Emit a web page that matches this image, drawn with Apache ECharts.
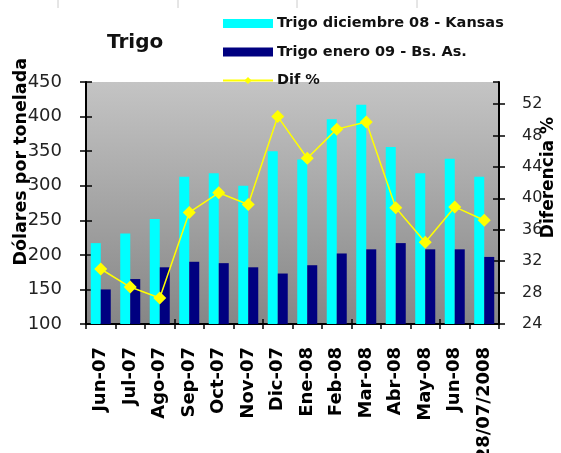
<!DOCTYPE html>
<html>
<head>
<meta charset="utf-8">
<script src="https://cdn.jsdelivr.net/npm/echarts@6/dist/echarts.min.js"></script>
<style>html,body{margin:0;padding:0;background:#fff}#c{width:561px;height:453px}</style>
</head>
<body>
<div id="c"></div>
<script>
const categories = ['Jun-07','Jul-07','Ago-07','Sep-07','Oct-07','Nov-07','Dic-07','Ene-08','Feb-08','Mar-08','Abr-08','May-08','Jun-08','28/07/2008'];
const kansas = [217, 231, 252, 313, 318, 300, 350, 338, 396, 417, 356, 318, 339, 313];
const bsas = [150, 165, 182, 190, 188, 182, 173, 185, 202, 208, 217, 208, 208, 197];
const difPct = [31.0, 28.7, 27.3, 38.2, 40.7, 39.2, 50.4, 45.1, 48.8, 49.7, 38.8, 34.4, 38.9, 37.2];
const leftTicks = {min: 100, max: 450, interval: 50};
const rightTicks = {min: 24, max: 54.8, interval: 4};

const chart = echarts.init(document.getElementById('c'));
const font = '"DejaVu Sans", Verdana, sans-serif';
const tickStyle = {color: '#000', width: 1.5};
chart.setOption({
  animation: false,
  title: {text: 'Trigo', left: 102, top: 28, textStyle: {fontFamily: font, fontSize: 20, fontWeight: 'bold', color: '#111'}},
  legend: {
    orient: 'vertical', left: 217, top: 11, itemWidth: 50, itemHeight: 9, itemGap: 13.5,
    textStyle: {fontFamily: font, fontSize: 14.5, fontWeight: 'bold', color: '#111', padding: [0,0,0,-1]},
    data: [
      {name: 'Trigo diciembre 08 - Kansas', icon: 'rect'},
      {name: 'Trigo enero 09 - Bs. As.', icon: 'rect'},
      {name: 'Dif %'}
    ]
  },
  grid: {
    left: 86, right: 62, top: 82, bottom: 129, show: true, borderWidth: 0,
    containLabel: false, outerBoundsMode: 'none',
    backgroundColor: new echarts.graphic.LinearGradient(0, 0, 0, 1, [
      {offset: 0, color: '#c4c4c4'}, {offset: 1, color: '#868686'}
    ])
  },
  xAxis: [
    {type: 'category', data: categories, position: 'bottom',
     axisLine: {lineStyle: {color: '#000', width: 2}},
     axisTick: {show: true, length: 5, lineStyle: tickStyle},
     axisLabel: {rotate: 90, margin: 23, fontFamily: font, fontSize: 18, fontWeight: 'bold', color: '#000'}},
    {type: 'category', data: categories, position: 'bottom',
     axisLine: {show: false}, axisTick: {show: true, inside: true, length: 5, lineStyle: tickStyle},
     axisLabel: {show: false}}
  ],
  yAxis: [
    {type: 'value', position: 'left', min: leftTicks.min, max: leftTicks.max, interval: leftTicks.interval,
     axisLine: {show: true, lineStyle: {color: '#000', width: 2}},
     axisTick: {show: true, length: 6, lineStyle: tickStyle},
     splitLine: {show: false},
     axisLabel: {margin: 24, fontFamily: font, fontSize: 18, color: '#222'}},
    {type: 'value', position: 'right', min: rightTicks.min, max: rightTicks.max, interval: rightTicks.interval,
     axisLine: {show: true, lineStyle: {color: '#000', width: 2}},
     axisTick: {show: true, length: 6, lineStyle: tickStyle},
     splitLine: {show: false},
     axisLabel: {margin: 23, fontFamily: font, fontSize: 16, color: '#222', showMaxLabel: false}},
    {type: 'value', position: 'left', min: leftTicks.min, max: leftTicks.max, interval: leftTicks.interval,
     axisLine: {show: false}, axisTick: {show: true, inside: true, length: 6, lineStyle: tickStyle},
     splitLine: {show: false}, axisLabel: {show: false}},
    {type: 'value', position: 'right', min: rightTicks.min, max: rightTicks.max, interval: rightTicks.interval,
     axisLine: {show: false}, axisTick: {show: true, inside: true, length: 6, lineStyle: tickStyle},
     splitLine: {show: false}, axisLabel: {show: false, showMaxLabel: false}}
  ],
  graphic: [
    {type: 'text', left: 12, top: 58, rotation: Math.PI / 2, z: 100,
     style: {text: 'Dólares por tonelada', font: 'bold 17.5px ' + font, fill: '#000'}},
    {type: 'text', left: 540, top: 117, rotation: Math.PI / 2, z: 100,
     style: {text: 'Diferencia %', font: 'bold 17px ' + font, fill: '#000'}},
    {type: 'line', shape: {x1: 58, y1: 0, x2: 58, y2: 8}, style: {stroke: '#ccc', lineWidth: 1}},
    {type: 'line', shape: {x1: 178, y1: 0, x2: 178, y2: 8}, style: {stroke: '#ccc', lineWidth: 1}},
    {type: 'line', shape: {x1: 297, y1: 0, x2: 297, y2: 8}, style: {stroke: '#ccc', lineWidth: 1}},
    {type: 'line', shape: {x1: 417, y1: 0, x2: 417, y2: 8}, style: {stroke: '#ccc', lineWidth: 1}}
  ],
  series: [
    {name: 'Trigo diciembre 08 - Kansas', type: 'bar', data: kansas, yAxisIndex: 0,
     barWidth: 10, barGap: '0%', itemStyle: {color: '#00ffff'}},
    {name: 'Trigo enero 09 - Bs. As.', type: 'bar', data: bsas, yAxisIndex: 0,
     barWidth: 10, barGap: '0%', itemStyle: {color: '#000080'}},
    {name: 'Dif %', type: 'line', data: difPct, yAxisIndex: 1, z: 5,
     symbol: 'diamond', symbolSize: 13,
     lineStyle: {color: '#ffff00', width: 1.5}, itemStyle: {color: '#ffff00'}}
  ]
});
</script>
</body>
</html>
